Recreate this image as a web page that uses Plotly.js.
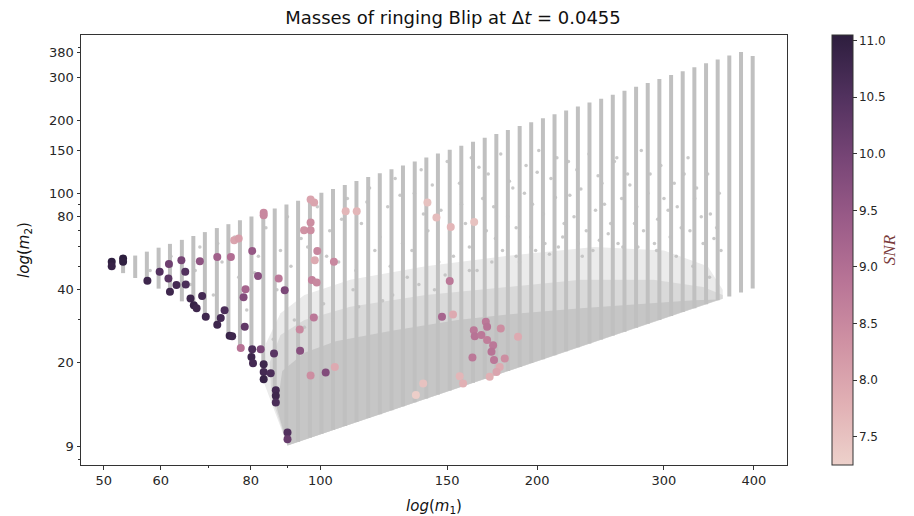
<!DOCTYPE html>
<html>
<head>
<meta charset="utf-8">
<script src="https://cdn.plot.ly/plotly-3.0.1.min.js"></script>
<style>html,body{margin:0;padding:0;background:#fff;}#chart{width:914px;height:516px;}</style>
</head>
<body>
<div id="chart"></div>
<script>
// ---- template bank: vertical template columns (m1, m2 range) ----
const bankM1 = [51.3,53.2,55.3,57.4,59.6,61.8,64.2,66.6,69.1,71.8,74.5,77.3,80.2,83.3,86.4,89.7,93.1,96.7,100.3,104.1,108.1,112.2,116.5,120.9,125.5,130.2,135.2,140.3,145.6,151.2,156.9,162.9,169.1,175.5,182.1,189.1,196.2,203.7,211.4,219.4,227.8,236.4,245.4,254.7,264.4,274.4,284.8,295.6,306.9,318.5,330.6,343.2,356.2,369.7,383.8,398.4];
const bankLow = [48.7,46.8,44.7,42.6,40.4,38.2,35.8,33.4,30.9,28.2,25.5,22.7,19.8,16.7,13.6,9.6,9.45,9.82,10.18,10.57,10.97,11.39,11.83,12.27,12.74,13.22,13.73,14.24,14.78,15.35,15.93,16.54,17.17,17.82,18.49,19.2,19.92,20.68,21.46,22.27,23.13,24.0,24.91,25.86,26.84,27.86,28.91,30.01,31.16,32.34,33.56,34.84,36.16,37.53,38.96,40.45];
const bankHigh = [51.3,53.2,55.3,57.4,59.6,61.8,64.2,66.6,69.1,71.8,74.5,77.3,80.2,83.3,86.4,89.7,93.1,96.7,100.3,104.1,108.1,112.2,116.5,120.9,125.5,130.2,135.2,140.3,145.6,151.2,156.9,162.9,169.1,175.5,182.1,189.1,196.2,203.7,211.4,219.4,227.8,236.4,245.4,254.7,264.4,274.4,284.8,295.6,306.9,318.5,330.6,343.2,356.2,369.7,382,368];

// ---- template bank: dense cloud outlines (m1, m2), outer to inner ----
const haloM1 = [90,83.5,84,88,95,110,140,180,240,300,345,362,362];
const haloM2 = [9.1,16.5,24,32,38,44,50,55,60,58,50,40,36.7];
const midM1 = [90,85.5,85,88,95,110,140,180,230,290,340,362,362];
const midM2 = [9.1,14.5,20,26,30,34,38,41,44,44,41,38,36.7];
const coreM1 = [90,87.0,88.5,95,105,125,155,190,230,280,330,358];
const coreM2 = [9.1,13.0,18.5,22,24.5,27,30,32,33.5,35,36.2,36.4];

// ---- template bank: scattered templates ----
const bgDotM1 = [58,62,66,68,71,73,76,79,81,84,86,88,90,92,94,97,99,101,103,106,109,111,114,117,119,122,124,127,130,132,135,138,141,144,147,150,153,156,159,162,165,168,171,175,178,182,185,189,193,197,201,205,209,213,218,222,227,231,236,241,246,251,256,262,267,273,279,285,291,297,304,310,317,324,331,338,345,352,358,95,104,113,126,137,149,161,173,187,199,214,228,244,259,276,293,312,329,347,
  102,107,112,116,121,125,129,134,139,143,146,152,157,161,166,170,174,179,183,187,192,196,200,204,208,212,217,221,225,230,234,239,243,248,253,258,263,269,275,281,287,294,300,306,313,320,326,333,340,348,355,360,62,67,72,77,82,87,91,96,100];
const bgDotM2 = [48,55,42,60,38,52,66,33,47,72,25,58,80,30,65,45,88,35,70,52,95,40,75,105,58,36,88,115,62,45,100,125,70,40,85,135,55,110,75,140,48,95,120,65,145,80,105,52,130,90,150,62,115,140,75,98,125,55,145,85,110,68,135,95,120,75,150,100,62,130,85,110,72,140,95,80,120,65,100,28,30,34,38,42,46,48,52,55,58,60,62,64,62,60,58,55,50,45,
  55,78,48,92,66,50,98,58,82,108,52,72,90,60,128,70,88,58,112,72,100,66,122,82,56,96,66,135,80,104,70,58,118,90,75,140,60,108,88,70,120,78,95,66,88,120,70,105,62,82,72,58,50,48,62,45,55,40,50,60,42];

// ---- ringing Blip triggers: m1, m2, SNR ----
const blipM1 = [51.3,51.3,53.2,53.2,57.5,59.8,61.6,61.5,64.1,64.9,63.1,61.8,65.0,68.0,71.9,75.1,75.9,77.0,80.4,83.4,83.4,81.9,78.7,78.2,66.0,68.5,66.7,67.3,69.3,73.6,72.7,71.9,74.8,75.4,78.5,77.5,80.4,80.2,80.6,82.6,86.2,83.4,83.4,83.4,85.3,86.7,86.7,86.7,90.0,90.0,87.5,89.2,96.9,98.0,96.9,94.9,96.9,99.0,98.2,104.4,97.3,98.8,97.9,93.6,93.7,96.9,101.7,104.7,108.4,112.3,140.8,144.9,151.7,163.5,151.2,147.5,152.8,163.3,163.8,169.7,170.4,167.3,170.4,173.7,172.8,174.2,178.0,188.1,180.3,162.6,177.4,175.6,171.8,156.1,157.8,138.9,135.7];
const blipM2 = [52.1,50.0,53.8,52.1,43.5,47.4,51.0,44.5,52.9,47.4,41.8,39.2,42.0,52.4,54.6,54.6,64.0,65.0,57.8,83.0,81.0,45.6,40.2,37.2,36.8,37.7,34.5,33.5,30.9,32.9,30.6,28.7,25.8,25.7,28.1,23.0,22.7,21.1,19.9,22.7,21.8,19.7,18.3,17.1,18.1,15.4,14.6,13.7,10.3,9.66,44.5,39.8,94.2,91.5,75.7,70.4,70.4,57.8,52.9,52.1,43.8,42.8,30.7,27.4,22.4,17.7,18.2,19.2,84.3,84.3,91.5,79.4,72.6,76.1,43.4,30.9,31.6,27.2,25.7,29.5,28.1,26.0,24.8,23.6,22.2,20.5,27.7,25.6,20.8,21.0,19.2,18.3,17.5,17.6,16.4,16.4,14.7];
const blipSNR = [11.0,10.9,11.05,11.0,10.8,10.5,10.1,10.4,10.0,10.5,10.7,10.8,10.6,9.6,9.3,9.0,8.0,8.1,9.5,8.5,8.5,9.7,9.2,9.8,10.8,10.7,10.9,10.8,10.8,10.6,10.7,10.8,10.9,10.8,10.3,8.9,10.6,10.8,10.7,9.9,10.4,10.8,10.7,10.9,10.6,10.7,10.8,10.6,10.5,10.2,8.8,9.9,8.0,8.0,8.4,8.3,8.4,8.5,7.9,8.5,8.6,8.5,8.8,8.5,9.7,8.4,9.8,7.9,7.7,7.7,7.5,7.6,7.7,7.5,8.8,9.2,7.9,8.8,8.9,8.8,8.9,8.8,8.7,8.8,8.9,8.8,8.4,7.9,8.4,8.8,7.9,8.0,7.8,7.7,7.8,7.5,7.3];

// ---- axes ticks ----
const xTicks = [50,60,80,100,150,200,300,400];
const xMinor = [70,90];
const yTicks = [9,20,40,80,100,150,200,300,380];
const yMinor = [8,30,50,60,70,90,400];
const cbTicks = [7.5,8.0,8.5,9.0,9.5,10.0,10.5,11.0];

const silver = '#c0c0c0';
const cubehelix = [[0,'#edd1cb'],[1/7,'#e1b0b4'],[2/7,'#cf91a3'],[3/7,'#b87496'],[4/7,'#9a5b88'],[5/7,'#774576'],[6/7,'#51315e'],[1,'#2d1e3e']];

const barX = [], barY = [];
bankM1.forEach((m, i) => { barX.push(m, m, null); barY.push(bankLow[i], bankHigh[i], null); });

const fillTrace = (xs, ys, c) => ({type:'scatter', mode:'lines', x:xs, y:ys, fill:'toself', fillcolor:c, line:{width:0}, hoverinfo:'skip', showlegend:false});

const traces = [
  fillTrace(haloM1, haloM2, '#ebebeb'),
  fillTrace(midM1, midM2, '#d9d9d9'),
  fillTrace(coreM1, coreM2, '#c6c6c6'),
  {type:'scatter', mode:'lines', x:barX, y:barY, line:{color:silver, width:4}, hoverinfo:'skip', showlegend:false},
  {type:'scatter', mode:'markers', x:bgDotM1, y:bgDotM2, marker:{color:silver, size:3.5, opacity:0.85}, hoverinfo:'skip', showlegend:false},
  {type:'scatter', mode:'markers', x:blipM1, y:blipM2, showlegend:false,
   marker:{size:8, color:blipSNR, colorscale:cubehelix, cmin:7.25, cmax:11.05, line:{width:0},
     colorbar:{x:1.0637, xanchor:'left', xpad:0, y:0.5, yanchor:'middle', len:1, lenmode:'fraction', ypad:0,
       thickness:21, outlinewidth:1, outlinecolor:'#333',
       ticks:'outside', ticklen:3.5, tickcolor:'#333', tickvals:cbTicks, ticktext:cbTicks.map(v=>v.toFixed(1)),
       tickfont:{family:'DejaVu Sans', size:12, color:'#262626'},
       title:{text:'<i>SNR</i>', side:'right', font:{family:'Liberation Serif', size:17, color:'#7a3b3b'}}}}}
];

const axisCommon = {type:'log', showgrid:false, zeroline:false, showline:true, mirror:true, linecolor:'#333', linewidth:1,
  ticks:'outside', ticklen:3.5, tickcolor:'#333', tickwidth:1, tickfont:{family:'DejaVu Sans', size:13, color:'#262626'}};

const layout = {
  width:914, height:516, margin:{l:81, r:127, t:35, b:51}, paper_bgcolor:'#fff', plot_bgcolor:'#fff',
  title:{text:'Masses of ringing Blip at Δ<i>t</i> = 0.0455', font:{family:'DejaVu Sans', size:18, color:'#111'},
    xref:'container', x:0.4956, xanchor:'center', yref:'container', y:0.965, yanchor:'middle'},
  xaxis:Object.assign({}, axisCommon, {range:[Math.log10(46.5), Math.log10(444.6)], tickvals:xTicks, ticktext:xTicks.map(String),
    minor:{tickvals:xMinor, ticks:'outside', ticklen:2, tickcolor:'#333', showgrid:false},
    title:{text:'<i>log</i>(<i>m</i><sub>1</sub>)', font:{family:'DejaVu Sans', size:15, color:'#111'}, standoff:15}}),
  yaxis:Object.assign({}, axisCommon, {range:[Math.log10(7.57), Math.log10(449)], tickvals:yTicks, ticktext:yTicks.map(String),
    minor:{tickvals:yMinor, ticks:'outside', ticklen:2, tickcolor:'#333', showgrid:false},
    title:{text:'<i>log</i>(<i>m</i><sub>2</sub>)', font:{family:'DejaVu Sans', size:15, color:'#111'}, standoff:15}})
};

Plotly.newPlot('chart', traces, layout, {displayModeBar:false, staticPlot:true});
</script>
</body>
</html>
